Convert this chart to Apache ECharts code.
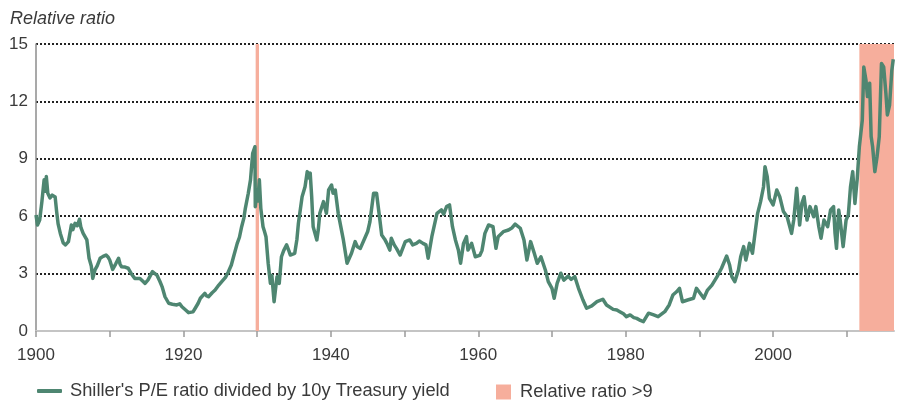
<!DOCTYPE html>
<html>
<head>
<meta charset="utf-8">
<script src="https://cdn.jsdelivr.net/npm/echarts@6/dist/echarts.min.js"></script>
<style>
    html, body { margin: 0; padding: 0; background: #fff; }
    #main { width: 902px; height: 403px; }
</style>
</head>
<body>
<div id="main"></div>
<script>
// values (year, Shiller P/E / 10y yield)
var years = [
    1900.0, 1900.2, 1900.5, 1900.8, 1901.1, 1901.3, 1901.4, 1901.6, 1901.9, 1902.2,
    1902.6, 1902.8, 1903.0, 1903.3, 1903.7, 1904.0, 1904.4, 1904.8, 1905.0, 1905.3,
    1905.6, 1905.9, 1906.1, 1906.4, 1906.9, 1907.2, 1907.5, 1907.7, 1908.0, 1908.3,
    1908.7, 1909.1, 1909.5, 1909.8, 1910.0, 1910.4, 1910.8, 1911.2, 1911.4, 1911.6,
    1912.0, 1912.5, 1913.0, 1913.4, 1914.1, 1914.5, 1914.8, 1915.2, 1915.8, 1916.1,
    1916.4, 1916.8, 1917.1, 1917.5, 1918.0, 1918.5, 1919.1, 1919.5, 1919.8, 1920.3,
    1920.7, 1920.9, 1921.3, 1921.6, 1922.0, 1922.3, 1922.9, 1923.1, 1923.4, 1923.9,
    1924.3, 1924.8, 1925.2, 1925.7, 1926.1, 1926.5, 1926.8, 1927.3, 1927.6, 1927.9,
    1928.2, 1928.4, 1928.8, 1929.1, 1929.4, 1929.7, 1929.75, 1930.0, 1930.1, 1930.3,
    1930.5, 1930.8, 1931.0, 1931.2, 1931.5, 1931.8, 1932.0, 1932.2, 1932.3, 1932.5,
    1932.7, 1933.0, 1933.3, 1933.6, 1934.0, 1934.3, 1934.5, 1935.1, 1935.4, 1935.6,
    1936.1, 1936.5, 1936.8, 1937.0, 1937.2, 1937.4, 1937.6, 1938.1, 1938.3, 1938.5,
    1939.0, 1939.4, 1939.7, 1940.1, 1940.3, 1940.6, 1941.0, 1941.7, 1942.2, 1942.8,
    1943.3, 1943.6, 1944.0, 1944.6, 1945.0, 1945.3, 1945.8, 1946.2, 1946.6, 1946.9,
    1947.3, 1947.6, 1948.0, 1948.2, 1948.6, 1948.9, 1949.4, 1950.1, 1950.7, 1951.1,
    1951.6, 1952.0, 1952.5, 1952.9, 1953.2, 1953.7, 1954.4, 1955.0, 1955.3, 1955.7,
    1956.1, 1956.5, 1956.9, 1957.3, 1957.6, 1958.0, 1958.4, 1958.6, 1959.1, 1959.6,
    1960.2, 1960.5, 1960.9, 1961.4, 1962.0, 1962.4, 1962.7, 1963.4, 1964.1, 1964.6,
    1965.0, 1965.7, 1966.2, 1966.6, 1967.1, 1967.6, 1968.0, 1968.5, 1969.1, 1969.5,
    1970.0, 1970.3, 1970.7, 1971.2, 1971.6, 1972.2, 1972.6, 1973.1, 1973.6, 1974.2,
    1974.7, 1975.4, 1976.1, 1976.9, 1977.4, 1978.3, 1978.8, 1979.2, 1979.7, 1980.1,
    1980.6, 1981.1, 1981.5, 1982.0, 1982.4, 1983.1, 1983.8, 1984.4, 1985.3, 1985.9,
    1986.4, 1986.9, 1987.3, 1987.7, 1988.4, 1989.2, 1989.6, 1990.1, 1990.6, 1991.1,
    1991.7, 1992.4, 1993.0, 1993.7, 1994.1, 1994.4, 1994.8, 1995.3, 1995.6, 1996.0,
    1996.3, 1996.8, 1997.2, 1997.6, 1997.9, 1998.3, 1998.7, 1998.9, 1999.2, 1999.5,
    2000.0, 2000.5, 2000.9, 2001.4, 2001.9, 2002.5, 2002.8, 2003.2, 2003.6, 2003.9,
    2004.2, 2004.6, 2005.0, 2005.5, 2005.8, 2006.2, 2006.5, 2006.9, 2007.4, 2007.8,
    2008.2, 2008.4, 2008.6, 2008.9, 2009.1, 2009.5, 2009.9, 2010.2, 2010.5, 2010.8,
    2011.1, 2011.4, 2011.7, 2011.9, 2012.1, 2012.3, 2012.6, 2012.8, 2013.1, 2013.3,
    2013.5, 2013.8, 2014.1, 2014.4, 2014.7, 2015.0, 2015.3, 2015.5, 2015.8, 2016.1,
    2016.3
];
var ratios = [
    6.06, 5.54, 5.8, 6.76, 7.9, 7.3, 8.07, 7.2, 6.95, 7.1,
    7.0, 6.24, 5.6, 5.1, 4.6, 4.5, 4.67, 5.54, 5.3, 5.63,
    5.5, 5.84, 5.4, 5.1, 4.76, 3.8, 3.4, 2.75, 3.19, 3.4,
    3.8, 3.9, 3.97, 3.85, 3.71, 3.22, 3.5, 3.8, 3.5, 3.36,
    3.35, 3.28, 2.95, 2.75, 2.75, 2.6, 2.49, 2.67, 3.1, 3.0,
    2.93, 2.6, 2.32, 1.79, 1.45, 1.4, 1.36, 1.42, 1.27, 1.1,
    0.96, 1.01, 1.0, 1.19, 1.45, 1.71, 1.97, 1.85, 1.79, 2.0,
    2.14, 2.4, 2.58, 2.8, 3.1, 3.45, 3.88, 4.58, 4.9, 5.45,
    5.9, 6.41, 7.2, 7.9, 9.29, 9.63, 6.5, 7.37, 6.8, 7.9,
    6.41, 5.45, 5.2, 4.93, 3.54, 2.49, 2.9, 2.84, 1.53, 2.2,
    2.84, 2.49, 3.88, 4.2, 4.5, 4.2, 3.97, 4.06, 4.8, 5.63,
    7.02, 7.54, 8.33, 8.0, 8.25, 7.02, 5.45, 4.76, 5.3, 6.15,
    6.76, 6.15, 7.37, 7.63, 7.2, 7.37, 6.15, 4.76, 3.54, 4.06,
    4.67, 4.4, 4.32, 4.85, 5.2, 5.71, 7.2, 7.2, 5.97, 5.02,
    4.8, 4.58, 4.23, 4.85, 4.5, 4.32, 3.97, 4.67, 4.76, 4.5,
    4.58, 4.7, 4.58, 4.5, 3.8, 4.93, 6.15, 6.33, 6.1, 6.5,
    6.59, 5.45, 4.76, 4.23, 3.54, 4.58, 4.93, 4.23, 4.58, 3.88,
    3.95, 4.2, 5.1, 5.54, 5.45, 4.32, 4.93, 5.19, 5.28, 5.4,
    5.59, 5.37, 4.76, 3.71, 4.67, 4.06, 3.54, 3.88, 3.19, 2.58,
    2.23, 1.71, 2.49, 3.02, 2.66, 2.87, 2.7, 2.84, 2.23, 1.62,
    1.19, 1.31, 1.53, 1.66, 1.36, 1.13, 1.1, 1.01, 0.9, 0.75,
    0.84, 0.7, 0.66, 0.55, 0.49, 0.93, 0.84, 0.75, 1.01, 1.36,
    1.88, 2.05, 2.23, 1.53, 1.62, 1.71, 2.23, 1.97, 1.71, 2.14,
    2.4, 2.84, 3.28, 3.92, 3.45, 2.84, 2.58, 3.19, 3.88, 4.41,
    3.71, 4.58, 4.06, 5.28, 6.15, 6.76, 7.54, 8.59, 8.07, 6.93,
    6.59, 7.37, 7.02, 6.24, 5.97, 5.1, 5.8, 7.46, 5.54, 6.67,
    7.02, 5.8, 6.5, 5.97, 6.5, 5.45, 4.85, 5.8, 5.45, 6.33,
    6.5, 5.1, 4.32, 6.33, 5.8, 4.41, 5.8, 6.06, 7.54, 8.33,
    6.67, 7.9, 9.63, 10.33, 11.03, 13.8, 13.1, 12.25, 12.95, 10.16,
    9.63, 8.33, 9.11, 10.16, 13.98, 13.8, 12.42, 11.29, 11.81, 13.6,
    14.2
];
// periods with relative ratio above 9
var highStarts = [1929.8, 2011.7];
var highEnds = [1930.25, 2016.4];

var xTicks = [1900, 1910, 1920, 1930, 1940, 1950, 1960, 1970, 1980, 1990, 2000, 2010];
var xLabels = [1900, 1920, 1940, 1960, 1980, 2000];
var yTicks = [0, 3, 6, 9, 12, 15];

var lineColor = '#4e8671';
var pinkColor = '#f6ae9c';
var textColor = '#3a3a3a';
var fontName = 'Liberation Sans, Arial, sans-serif';

var seriesData = [];
for (var i = 0; i < years.length; i++) {
    seriesData.push([years[i], ratios[i]]);
}
var areas = [];
for (var j = 0; j < highStarts.length; j++) {
    areas.push([{ xAxis: highStarts[j] }, { xAxis: highEnds[j] }]);
}

var chart = echarts.init(document.getElementById('main'), null, { renderer: 'canvas' });

var option = {
    animation: false,
    backgroundColor: '#fff',
    textStyle: { fontFamily: fontName },
    title: {
        text: 'Relative ratio',
        left: 5,
        top: 5,
        textStyle: {
            fontFamily: fontName,
            fontStyle: 'italic',
            fontWeight: 'normal',
            fontSize: 18,
            color: textColor
        }
    },
    legend: [{
        left: 37,
        top: 382,
        padding: 0,
        itemWidth: 25,
        itemHeight: 4,
        icon: 'roundRect',
        textStyle: { fontFamily: fontName, fontSize: 18.3, color: textColor, padding: [0, 0, 0, 3] },
        data: [{ name: "Shiller's P/E ratio divided by 10y Treasury yield", itemStyle: { color: lineColor } }]
    }, {
        left: 496,
        top: 383,
        padding: 0,
        itemWidth: 15,
        itemHeight: 15,
        icon: 'rect',
        textStyle: { fontFamily: fontName, fontSize: 18.3, color: textColor, padding: [0, 0, 0, 4] },
        data: [{ name: 'Relative ratio >9', itemStyle: { color: pinkColor } }]
    }],
    grid: {
        left: 36,
        right: 8,
        top: 44,
        bottom: 72
    },
    xAxis: {
        type: 'value',
        min: 1900,
        max: 2016.4,
        axisLine: { show: true, onZero: false, lineStyle: { color: '#c4c4c4', width: 2 } },
        axisTick: {
            show: true,
            length: 6,
            customValues: xTicks,
            lineStyle: { color: '#9a9a9a', width: 1.5 }
        },
        axisLabel: {
            customValues: xLabels,
            margin: 16,
            fontSize: 17,
            color: textColor,
            fontFamily: fontName,
            formatter: function (v) { return String(v); }
        },
        splitLine: { show: false }
    },
    yAxis: {
        type: 'value',
        min: 0,
        max: 15,
        interval: 3,
        axisLine: { show: true, lineStyle: { color: '#8c8c8c', width: 1.5 } },
        axisTick: { show: false },
        axisLabel: {
            margin: 8,
            fontSize: 17,
            color: textColor,
            fontFamily: fontName,
            customValues: yTicks
        },
        splitLine: {
            show: true,
            lineStyle: { color: '#222', width: 2, type: [2, 2] }
        }
    },
    series: [{
        name: 'Relative ratio >9',
        type: 'line',
        z: 1,
        data: [],
        itemStyle: { color: pinkColor },
        markArea: {
            silent: true,
            itemStyle: { color: pinkColor, opacity: 1 },
            data: areas
        }
    }, {
        name: "Shiller's P/E ratio divided by 10y Treasury yield",
        type: 'line',
        z: 3,
        showSymbol: false,
        symbol: 'none',
        data: seriesData,
        itemStyle: { color: lineColor },
        lineStyle: { color: lineColor, width: 3.5, join: 'round' }
    }]
};

chart.setOption(option);
</script>
</body>
</html>
